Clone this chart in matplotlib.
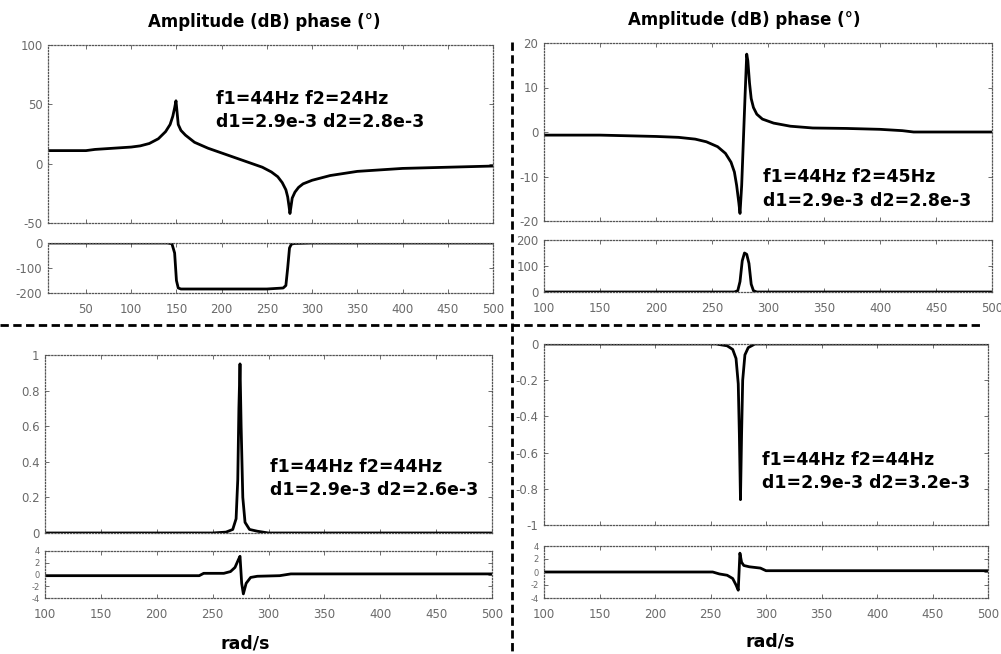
import matplotlib
matplotlib.use("Agg")
import matplotlib.pyplot as plt
from matplotlib.lines import Line2D
from matplotlib.ticker import FuncFormatter

W, H = 1001, 654

# top-left: f2 = 24 Hz
tl_amp_x = [8, 50, 60, 100, 110, 120, 130, 138, 143, 146, 148, 149.5, 150.5, 152, 155, 160, 170, 185, 200, 215, 230, 245, 255,
            262, 267, 271, 273, 274.5, 275.5, 276.5, 278, 281, 285, 290, 300, 320, 350, 400, 450, 500]
tl_amp_y = [11, 11, 12, 14, 15, 17, 21, 27, 33, 40, 47, 53, 45, 33, 28, 24, 18, 13, 9, 5, 1, -3, -7,
            -11, -16, -22, -28, -36, -42, -37, -29, -24, -20, -17, -14, -10, -6.5, -4, -3, -2]
tl_ph_x = [8, 140, 145, 148, 150, 152, 155, 200, 250, 268, 271, 273, 275, 277, 280, 300, 500]
tl_ph_y = [0, 0, -3, -40, -150, -180, -184, -184, -184, -180, -170, -100, -20, -5, -2, 0, 0]

# top-right: f2 = 45 Hz
tr_amp_x = [100, 150, 200, 220, 235, 245, 255, 262, 267, 270, 272, 274, 275, 276.5, 278, 279.5, 281, 282, 283.5, 285, 287,
            290, 295, 305, 320, 340, 370, 400, 420, 430, 500]
tr_amp_y = [-0.7, -0.7, -1.0, -1.2, -1.6, -2.2, -3.3, -4.8, -6.8, -9, -12, -16, -18.3, -12, -2, 8, 17.5, 16, 11, 7.5, 5.5,
            4, 2.9, 2, 1.3, 0.9, 0.8, 0.6, 0.3, 0, 0]
tr_ph_x = [100, 270, 273, 275, 277, 279, 281, 283, 285, 287, 290, 500]
tr_ph_y = [0, 0, 5, 40, 120, 150, 145, 110, 30, 5, 0, 0]

# bottom-left: f2 = 44 Hz, d2 = 2.6e-3
bl_amp_x = [100, 250, 262, 268, 271, 272.5, 273.5, 274.5, 275.5, 277, 279, 283, 290, 300, 500]
bl_amp_y = [0, 0, 0.005, 0.02, 0.08, 0.3, 0.7, 0.95, 0.6, 0.2, 0.06, 0.02, 0.01, 0, 0]
bl_ph_x = [100, 238, 242, 260, 266, 270, 273, 274.5, 276, 277.5, 280, 284, 290, 310, 320, 500]
bl_ph_y = [-0.2, -0.2, 0.2, 0.2, 0.5, 1.2, 2.5, 3.1, -1.5, -3.3, -1.5, -0.5, -0.3, -0.2, 0.1, 0.1]

# bottom-right: f2 = 44 Hz, d2 = 3.2e-3
br_amp_x = [100, 255, 265, 270, 273, 275, 276, 277, 278, 279, 281, 284, 290, 500]
br_amp_y = [0, 0, -0.01, -0.03, -0.08, -0.22, -0.5, -0.86, -0.5, -0.2, -0.06, -0.02, 0, 0]
br_ph_x = [100, 252, 258, 265, 270, 273, 275, 276.5, 278, 280, 285, 295, 300, 500]
br_ph_y = [0, 0, -0.3, -0.5, -1, -2, -2.8, 2.9, 1.5, 1, 0.8, 0.6, 0.2, 0.2]

plt.rcParams["font.family"] = ["DejaVu Sans"]
plt.rcParams["axes.unicode_minus"] = False
fig = plt.figure(figsize=(W / 100, H / 100), dpi=100)


def px_axes(left, right, top, bottom):
    return fig.add_axes([left / W, 1 - bottom / H, (right - left) / W, (bottom - top) / H])


def style(ax, xlim, ylim, yticks, xticks=None):
    ax.set_xlim(*xlim)
    ax.set_ylim(*ylim)
    ax.set_yticks(yticks)
    if xticks is None:
        ax.set_xticks(range(100, 501, 50))
        ax.set_xticklabels([])
    else:
        ax.set_xticks(xticks)
        ax.xaxis.set_major_formatter(FuncFormatter(lambda v, p: "%g" % v))
    ax.yaxis.set_major_formatter(FuncFormatter(lambda v, p: "%g" % v))
    for s in ax.spines.values():
        s.set_linestyle((0, (1, 1.5)))
        s.set_linewidth(0.9)
        s.set_color("#555555")
    ax.tick_params(direction="in", length=3, width=0.6, colors="#555555",
                   labelsize=8.5, labelcolor="#6a6a6a", top=True, right=True)
    ax.tick_params(axis="x", pad=7)
    ax.tick_params(axis="y", pad=4)


lw = 2.0

ax = px_axes(48, 493, 45, 223)
ax.plot(tl_amp_x, tl_amp_y, color="black", lw=lw)
style(ax, (8, 500), (-50, 100), [-50, 0, 50, 100], xticks=range(50, 501, 50))
ax.set_xticklabels([])
ax = px_axes(48, 493, 243, 293)
ax.plot(tl_ph_x, tl_ph_y, color="black", lw=lw)
style(ax, (8, 500), (-200, 0), [-200, -100, 0], xticks=range(50, 501, 50))

ax = px_axes(544, 992, 43, 221)
ax.plot(tr_amp_x, tr_amp_y, color="black", lw=lw)
style(ax, (100, 500), (-20, 20), [-20, -10, 0, 10, 20])
ax = px_axes(544, 992, 240, 292)
ax.plot(tr_ph_x, tr_ph_y, color="black", lw=lw)
style(ax, (100, 500), (0, 200), [0, 100, 200], xticks=range(100, 501, 50))

ax = px_axes(45, 492, 355, 533)
ax.plot(bl_amp_x, bl_amp_y, color="black", lw=lw)
style(ax, (100, 500), (0, 1), [0, 0.2, 0.4, 0.6, 0.8, 1])
ax = px_axes(45, 492, 551, 598)
ax.plot(bl_ph_x, bl_ph_y, color="black", lw=lw)
style(ax, (100, 500), (-4, 4), [-4, -2, 0, 2, 4], xticks=range(100, 501, 50))
ax.tick_params(axis="y", labelsize=6)

ax = px_axes(544, 988, 344, 525)
ax.plot(br_amp_x, br_amp_y, color="black", lw=lw)
style(ax, (100, 500), (-1, 0), [-1, -0.8, -0.6, -0.4, -0.2, 0])
ax = px_axes(544, 988, 546, 598)
ax.plot(br_ph_x, br_ph_y, color="black", lw=lw)
style(ax, (100, 500), (-4, 4), [-4, -2, 0, 2, 4], xticks=range(100, 501, 50))
ax.tick_params(axis="y", labelsize=6)


def ftext(x, y, s, size, ha="left"):
    fig.text(x / W, 1 - y / H, s, fontsize=size, fontweight="bold", ha=ha, va="center")


ftext(264, 22, "Amplitude (dB) phase (°)", 12, ha="center")
ftext(744, 20, "Amplitude (dB) phase (°)", 12, ha="center")
ftext(216, 99, "f1=44Hz f2=24Hz", 12.5)
ftext(216, 122, "d1=2.9e-3 d2=2.8e-3", 12.5)
ftext(763, 177, "f1=44Hz f2=45Hz", 12.5)
ftext(763, 201, "d1=2.9e-3 d2=2.8e-3", 12.5)
ftext(270, 467, "f1=44Hz f2=44Hz", 12.5)
ftext(270, 490, "d1=2.9e-3 d2=2.6e-3", 12.5)
ftext(762, 460, "f1=44Hz f2=44Hz", 12.5)
ftext(762, 483, "d1=2.9e-3 d2=3.2e-3", 12.5)
ftext(245, 643, "rad/s", 12.5, ha="center")
ftext(770, 642, "rad/s", 12.5, ha="center")

fig.add_artist(Line2D([0, 980 / W], [1 - 325 / H, 1 - 325 / H], transform=fig.transFigure,
                      color="black", lw=2, linestyle=(0, (3, 1.6))))
fig.add_artist(Line2D([512 / W, 512 / W], [1 - 42 / H, 0], transform=fig.transFigure,
                      color="black", lw=2, linestyle=(0, (3, 1.6))))

fig.savefig("out.png", dpi=100)
